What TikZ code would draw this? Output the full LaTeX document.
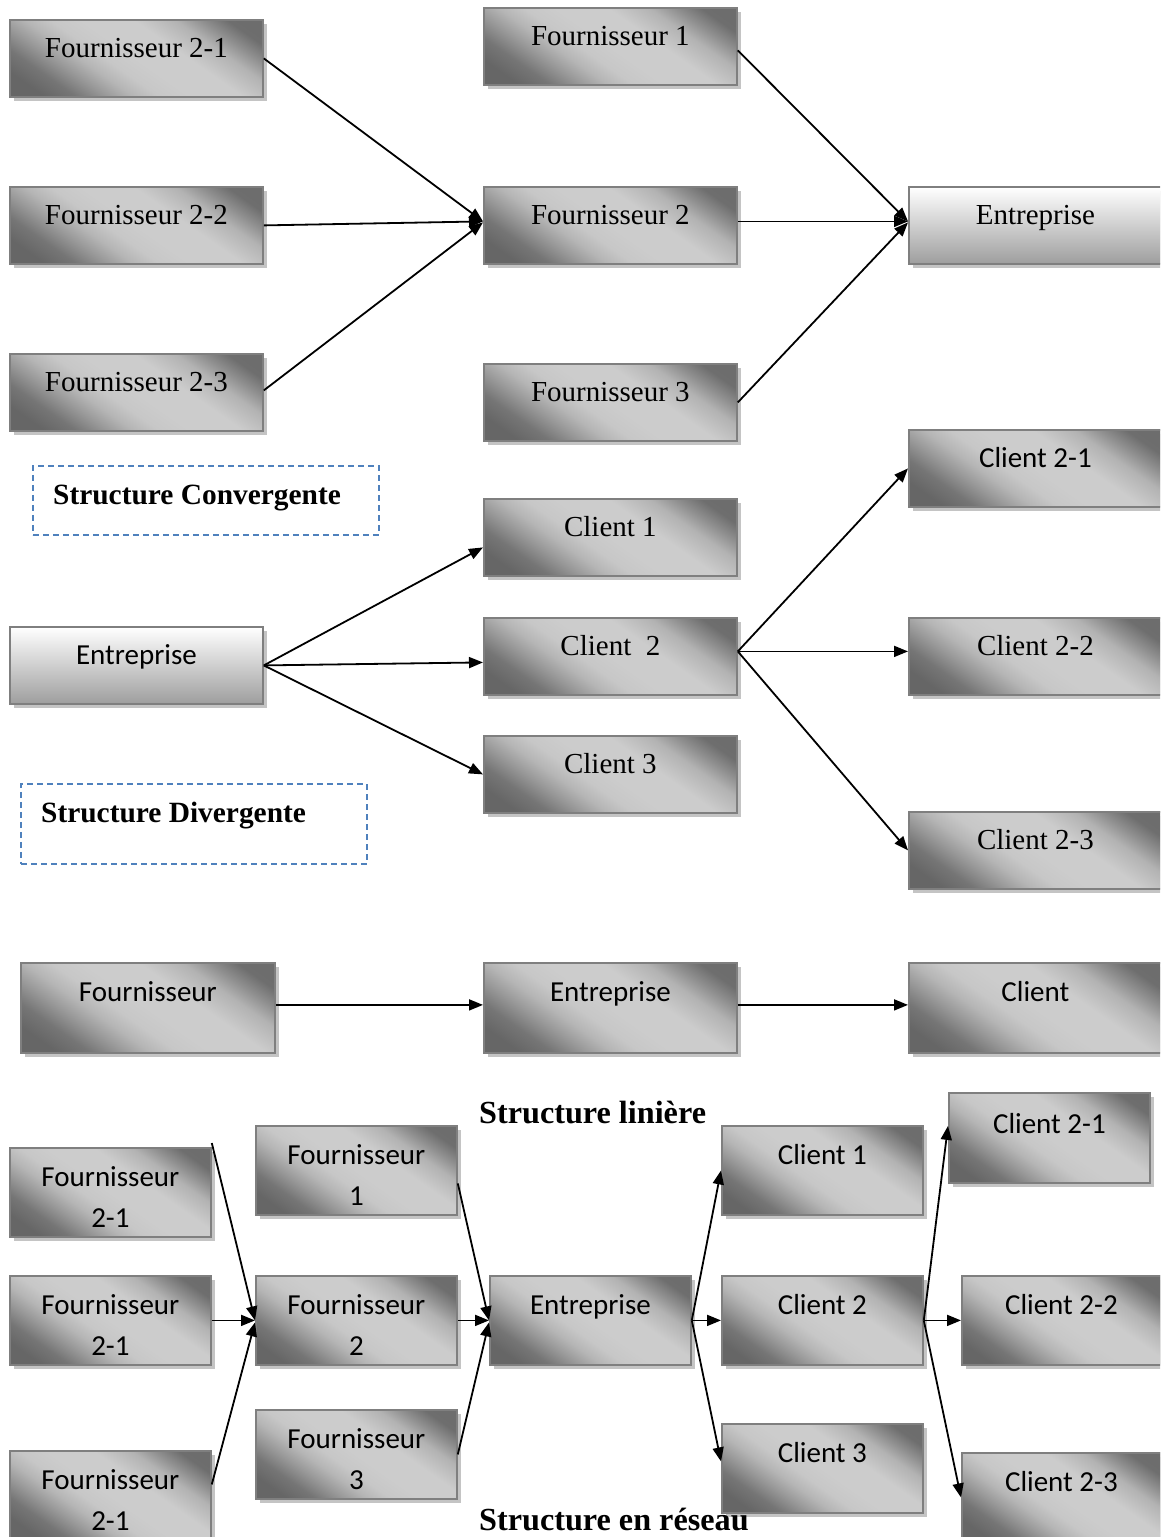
\documentclass[tikz,border=0pt]{standalone}
\usepackage{fontspec}
\setmainfont{Liberation Serif}
\newfontfamily\calfont{Carlito}
\usetikzlibrary{arrows.meta,shadows}

\definecolor{boxedge}{HTML}{7F7F7F}
\definecolor{shadowgray}{HTML}{C4C4C4}
\definecolor{dashblue}{HTML}{4F81BD}
\definecolor{pale}{HTML}{9E9E9E}

% metallic diagonal fill of the grey boxes (dark corners top right / bottom left)
\pgfdeclareverticalshading{metal}{100bp}{%
  rgb(0bp)=(.40,.40,.40);
  rgb(22bp)=(.40,.40,.40);
  rgb(28bp)=(.46,.46,.46);
  rgb(34bp)=(.60,.60,.60);
  rgb(39bp)=(.71,.71,.71);
  rgb(44bp)=(.78,.78,.78);
  rgb(50bp)=(.80,.80,.80);
  rgb(60bp)=(.80,.80,.80);
  rgb(68bp)=(.70,.70,.70);
  rgb(73bp)=(.56,.56,.56);
  rgb(78bp)=(.43,.43,.43);
  rgb(100bp)=(.42,.42,.42)}

\begin{document}
\begin{tikzpicture}[x=1pt,y=-1pt,
  font=\fontsize{29}{35}\selectfont,
  boxbase/.style={rectangle, draw=boxedge, line width=1.8pt, inner sep=0pt, anchor=north west,
     drop shadow={shadow xshift=4pt, shadow yshift=-4pt, fill=shadowgray, opacity=1}},
  gbox/.style={boxbase, shade, shading=metal, shading angle=-35},
  wbox/.style={boxbase, top color=white, bottom color=pale},
  wide/.style={minimum width=253pt, minimum height=77pt},
  tall/.style={minimum width=253pt, minimum height=90pt},
  narrow/.style={minimum width=201pt, minimum height=89pt},
  lbl/.style={anchor=base, inner sep=0pt},
  sans/.style={lbl, font=\fontsize{29}{35}\selectfont\calfont},
  arr/.style={-{Triangle[length=14pt,width=11pt]}, line width=1.8pt},
  title/.style={anchor=base west, inner sep=0pt, font=\fontsize{29.4}{35}\selectfont\bfseries},
  bigtitle/.style={title, font=\fontsize{32.2}{38}\selectfont\bfseries},
  dashbox/.style={draw=dashblue, line width=1.5pt, dash pattern=on 6pt off 4pt,
     anchor=north west, inner sep=0pt},
]
\clip (0,0) rectangle (1160,1537);

% ---------- Structure convergente ----------
\node[gbox,wide] (f21) at (9,19) {};
\node[gbox,wide] (f22) at (9,186) {};
\node[gbox,wide] (f23) at (9,353) {};
\node[gbox,wide] (f1) at (483,7) {};
\node[gbox,wide] (f2) at (483,186) {};
\node[gbox,wide] (f3) at (483,363) {};
\node[wbox,wide] (ent1) at (908,186) {};

\node[lbl] (f21t) at ([yshift=-38pt]f21.north) {Fournisseur 2-1};
\node[lbl] (f22t) at ([yshift=-38pt]f22.north) {Fournisseur 2-2};
\node[lbl] (f23t) at ([yshift=-38pt]f23.north) {Fournisseur 2-3};
\node[lbl] (f1t) at ([yshift=-38pt]f1.north) {Fournisseur 1};
\node[lbl] (f2t) at ([yshift=-38pt]f2.north) {Fournisseur 2};
\node[lbl] (f3t) at ([yshift=-38pt]f3.north) {Fournisseur 3};
\node[lbl] (ent1t) at ([yshift=-38pt]ent1.north) {Entreprise};

\draw[arr] (f21.east) -- ([yshift=4pt]f2.west);
\draw[arr] (f22.east) -- ([yshift=4pt]f2.west);
\draw[arr] ([yshift=2pt]f23.east) -- ([yshift=3pt]f2.west);
\draw[arr] ([yshift=-4pt]f1.east) -- ([yshift=4pt]ent1.west);
\draw[arr] ([yshift=4pt]f2.east) -- ([yshift=4pt]ent1.west);
\draw[arr] (f3.east) -- ([yshift=3pt]ent1.west);

\node[dashbox, minimum width=346pt, minimum height=69pt] (cvbox) at (32,465) {};
\node[title] (cvtitle) at (53,504) {Structure Convergente};

% ---------- Structure divergente ----------
\node[wbox,wide] (ent2) at (9,626) {};
\node[gbox,wide] (c1) at (483,498) {};
\node[gbox,wide] (c2) at (483,617) {};
\node[gbox,wide] (c3) at (483,735) {};
\node[gbox,wide] (c21) at (908,429) {};
\node[gbox,wide] (c22) at (908,617) {};
\node[gbox,wide] (c23) at (908,811) {};

\node[sans] (ent2t) at ([yshift=-38pt]ent2.north) {Entreprise};
\node[lbl] (c1t) at ([yshift=-38pt]c1.north) {Client 1};
\node[lbl] (c2t) at ([yshift=-38pt]c2.north) {Client\ \ 2};
\node[lbl] (c3t) at ([yshift=-38pt]c3.north) {Client 3};
\node[sans] (c21t) at ([yshift=-38pt]c21.north) {Client 2-1};
\node[lbl] (c22t) at ([yshift=-38pt]c22.north) {Client 2-2};
\node[lbl] (c23t) at ([yshift=-38pt]c23.north) {Client 2-3};

\draw[arr] (ent2.east) -- ([yshift=-10pt]c1.west);
\draw[arr] (ent2.east) -- ([yshift=-6pt]c2.west);
\draw[arr] (ent2.east) -- (c3.west);
\draw[arr] ([yshift=5pt]c2.east) -- (c21.west);
\draw[arr] ([yshift=5pt]c2.east) -- ([yshift=5pt]c22.west);
\draw[arr] ([yshift=5pt]c2.east) -- (c23.west);

\node[dashbox, minimum width=346pt, minimum height=80pt] (dvbox) at (20,783) {};
\node[title] (dvtitle) at (41,822) {Structure Divergente};

% ---------- Structure linéaire ----------
\node[gbox,tall,minimum width=254pt] (lf) at (20,962) {};
\node[gbox,tall] (le) at (483,962) {};
\node[gbox,tall] (lc) at (908,962) {};

\node[sans] (lft) at ([yshift=-39pt]lf.north) {Fournisseur};
\node[sans] (let) at ([yshift=-39pt]le.north) {Entreprise};
\node[sans] (lct) at ([yshift=-39pt]lc.north) {Client};

\draw[arr] ([yshift=3pt]lf.east) -- ([yshift=3pt]le.west);
\draw[arr] ([yshift=3pt]le.east) -- ([yshift=3pt]lc.west);

\node[bigtitle] (lntitle) at (479,1123) {Structure linière};

% ---------- Structure en réseau ----------
\node[gbox,narrow] (nf21a) at (9,1147) {};
\node[gbox,narrow] (nf21b) at (9,1275) {};
\node[gbox,narrow] (nf21c) at (9,1450) {};
\node[gbox,narrow] (nf1) at (255,1125) {};
\node[gbox,narrow] (nf2) at (255,1275) {};
\node[gbox,narrow] (nf3) at (255,1409) {};
\node[gbox,narrow] (nent) at (489,1275) {};
\node[gbox,narrow] (nc1) at (721,1125) {};
\node[gbox,narrow] (nc2) at (721,1275) {};
\node[gbox,narrow] (nc3) at (721,1423) {};
\node[gbox,narrow,minimum height=90pt] (nc21) at (948,1092) {};
\node[gbox,narrow,minimum width=199pt] (nc22) at (961,1275) {};
\node[gbox,narrow,minimum width=199pt] (nc23) at (961,1452) {};

\node[sans] (nf21aa) at ([yshift=-39pt]nf21a.north) {Fournisseur};
\node[sans] (nf21ab) at ([yshift=-80pt]nf21a.north) {2-1};
\node[sans] (nf21ba) at ([yshift=-39pt]nf21b.north) {Fournisseur};
\node[sans] (nf21bb) at ([yshift=-80pt]nf21b.north) {2-1};
\node[sans] (nf21ca) at ([yshift=-39pt]nf21c.north) {Fournisseur};
\node[sans] (nf21cb) at ([yshift=-80pt]nf21c.north) {2-1};
\node[sans] (nf1a) at ([yshift=-39pt]nf1.north) {Fournisseur};
\node[sans] (nf1b) at ([yshift=-80pt]nf1.north) {1};
\node[sans] (nf2a) at ([yshift=-39pt]nf2.north) {Fournisseur};
\node[sans] (nf2b) at ([yshift=-80pt]nf2.north) {2};
\node[sans] (nf3a) at ([yshift=-39pt]nf3.north) {Fournisseur};
\node[sans] (nf3b) at ([yshift=-80pt]nf3.north) {3};
\node[sans] (nentt) at ([yshift=-39pt]nent.north) {Entreprise};
\node[sans] (nc1t) at ([yshift=-39pt]nc1.north) {Client 1};
\node[sans] (nc2t) at ([yshift=-39pt]nc2.north) {Client 2};
\node[sans] (nc3t) at ([yshift=-39pt]nc3.north) {Client 3};
\node[sans] (nc21t) at ([yshift=-41pt]nc21.north) {Client 2-1};
\node[sans] (nc22t) at ([yshift=-39pt]nc22.north) {Client 2-2};
\node[sans] (nc23t) at ([yshift=-39pt]nc23.north) {Client 2-3};

\draw[arr] ([yshift=4pt]nf21a.north east) -- (nf2.west);
\draw[arr] (nf21b.east) -- (nf2.west);
\draw[arr] ([yshift=11pt]nf21c.east) -- ([yshift=-2pt]nf2.west);
\draw[arr] ([yshift=-13pt]nf1.east) -- (nent.west);
\draw[arr] (nf2.east) -- (nent.west);
\draw[arr] (nf3.east) -- ([yshift=-2pt]nent.west);
\draw[arr] (nent.east) -- (nc1.west);
\draw[arr] (nent.east) -- (nc2.west);
\draw[arr] (nent.east) -- ([yshift=7pt]nc3.west);
\draw[arr] (nc2.east) -- ([yshift=12pt]nc21.west);
\draw[arr] (nc2.east) -- (nc22.west);
\draw[arr] (nc2.east) -- (nc23.west);

\node[bigtitle] (rstitle) at (479,1530) {Structure en réseau};
\end{tikzpicture}
\end{document}
